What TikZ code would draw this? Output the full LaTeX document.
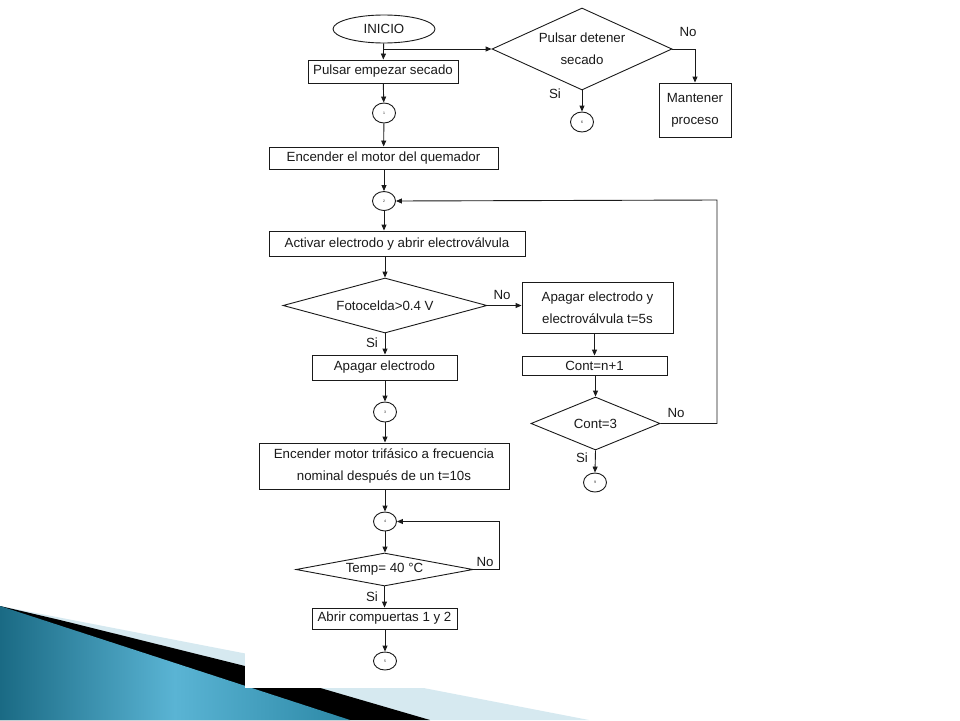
\documentclass[tikz,border=0pt]{standalone}
\usepackage{fontspec}
\setmainfont{Liberation Sans}
\usetikzlibrary{shapes.geometric,arrows.meta}
\definecolor{ink}{HTML}{1A1A1A}
\definecolor{tealdark}{HTML}{1A6A84}
\definecolor{tealmid}{HTML}{5AB4D4}
\definecolor{tealright}{HTML}{2C88A6}
\definecolor{paleblue}{HTML}{D6E9F0}
\begin{document}
\begin{tikzpicture}[x=1pt,y=-1pt,
  line/.style={draw=ink, line width=0.9pt},
  arr/.style={line, -{Triangle[length=6pt,width=5pt]}},
  box/.style={draw=ink, line width=0.9pt, rectangle, inner sep=0pt, align=center,
    font=\fontsize{13.3}{22}\selectfont, text=ink},
  dia/.style={draw=ink, line width=0.9pt, diamond, inner sep=0pt, align=center,
    font=\fontsize{13.3}{22}\selectfont, text=ink},
  term/.style={draw=ink, line width=0.9pt, ellipse, inner sep=0pt,
    font=\fontsize{13.3}{15}\selectfont, text=ink},
  con/.style={draw=ink, line width=0.9pt, ellipse, inner sep=0pt,
    minimum width=23pt, minimum height=20pt, font=\fontsize{3.5}{4}\selectfont, text=ink},
  lbl/.style={inner sep=0pt, font=\fontsize{13.3}{15}\selectfont, text=ink}]
\useasboundingbox (0,0) rectangle (960,720);
% slide decoration
\fill[paleblue] (0,606) -- (589,720) -- (0,720) -- cycle;
\fill[black] (0,606) -- (60,620) -- (245,666) -- (430,720) -- (0,720) -- cycle;
\shade[left color=tealdark, right color=tealright, middle color=tealmid]
  (0,606) -- (350,720) -- (0,720) -- cycle;
\fill[white] (245,0) rectangle (780,688);

% nodes
\node[term, minimum width=102pt, minimum height=28pt] (ini) at (384,29) {INICIO};
\node[box, minimum width=150pt, minimum height=23pt] (p1) at (383,71.5) {Pulsar empezar secado};
\node[con] (c1) at (384,113) {1};
\node[box, minimum width=229pt, minimum height=22pt] (enc) at (383.5,158) {Encender el motor del quemador};
\node[dia, minimum width=180pt, minimum height=82pt, aspect=2.2] (d1) at (582,49) {Pulsar detener\\secado};
\node[box, minimum width=72pt, minimum height=54pt] (mant) at (695,110) {Mantener\\proceso};
\node[con] (c6) at (582,122) {6};
\node[con, minimum height=19pt] (c2) at (384,201) {2};
\node[box, minimum width=256pt, minimum height=25pt] (act) at (397,243.5) {Activar electrodo y abrir electroválvula};
\node[dia, minimum width=204pt, minimum height=55pt, aspect=3.7] (foto) at (385,305.5) {Fotocelda>0.4 V};
\node[box, minimum width=151pt, minimum height=51pt] (apg) at (597.5,307.5) {Apagar electrodo y\\electroválvula t=5s};
\node[box, minimum width=145pt, minimum height=25pt] (ape) at (384.5,367.5) {Apagar electrodo};
\node[box, minimum width=145pt, minimum height=19pt] (cnt) at (594.5,365.5) {Cont=n+1};
\node[dia, minimum width=129pt, minimum height=53pt, aspect=2.4] (c3d) at (595.5,423.5) {Cont=3};
\node[con] (c3) at (385,412) {3};
\node[con, minimum height=19pt] (c9) at (595,482.5) {9};
\node[box, minimum width=250pt, minimum height=46pt] (mot) at (384,466) {Encender motor trifásico a frecuencia\\nominal después de un t=10s};
\node[con, minimum height=19pt] (c4) at (385,521.5) {4};
\node[dia, minimum width=177pt, minimum height=33pt, aspect=5.4] (tmp) at (384.5,569.5) {Temp= 40 °C};
\node[box, minimum width=145pt, minimum height=21pt] (abr) at (384.5,618.5) {Abrir compuertas 1 y 2};
\node[con, minimum height=18pt] (c5) at (385,661) {5};

% labels
\node[lbl] at (688,32) {No};
\node[lbl] at (555,94) {Si};
\node[lbl] at (502,295) {No};
\node[lbl] at (372,343) {Si};
\node[lbl] at (676,413) {No};
\node[lbl] at (582,458) {Si};
\node[lbl] at (485,562) {No};
\node[lbl] at (372,597) {Si};

% connectors
\coordinate (b1) at (ini.south |- d1.west);
\coordinate (r2) at (717,200);
\coordinate (r4) at (499,521.5);
\draw[arr] (ini) -- (p1);
\draw[arr] (b1) -- (d1.west);
\draw[arr] (d1.east) -| (mant.north);
\draw[arr] (d1.south) -- (c6.north);
\draw[arr] (p1) -- (c1);
\draw[arr] (c1) -- (enc);
\draw[arr] (enc.south -| c2) -- (c2.north);
\draw[arr] (c2.south) -- (c2.south |- act.north);
\draw[arr] (act.south -| foto) -- (foto.north);
\draw[arr] (foto.east) -- (foto.east -| apg.west);
\draw[arr] (foto.south) -- (foto.south |- ape.north);
\draw[arr] (apg.south -| cnt) -- (cnt.north);
\draw[arr] (cnt.south -| c3d) -- (c3d.north);
\draw[arr] (c3d.east) -| (r2) -- (c2.east);
\draw[arr] (c3d.south) -- (c9.north);
\draw[arr] (ape.south -| c3) -- (c3.north);
\draw[arr] (c3.south) -- (c3.south |- mot.north);
\draw[arr] (mot.south -| c4) -- (c4.north);
\draw[arr] (c4.south) -- (c4.south |- tmp.north);
\draw[arr] (tmp.east) -| (r4) -- (c4.east);
\draw[arr] (tmp.south) -- (tmp.south |- abr.north);
\draw[arr] (abr.south -| c5) -- (c5.north);
\end{tikzpicture}
\end{document}
